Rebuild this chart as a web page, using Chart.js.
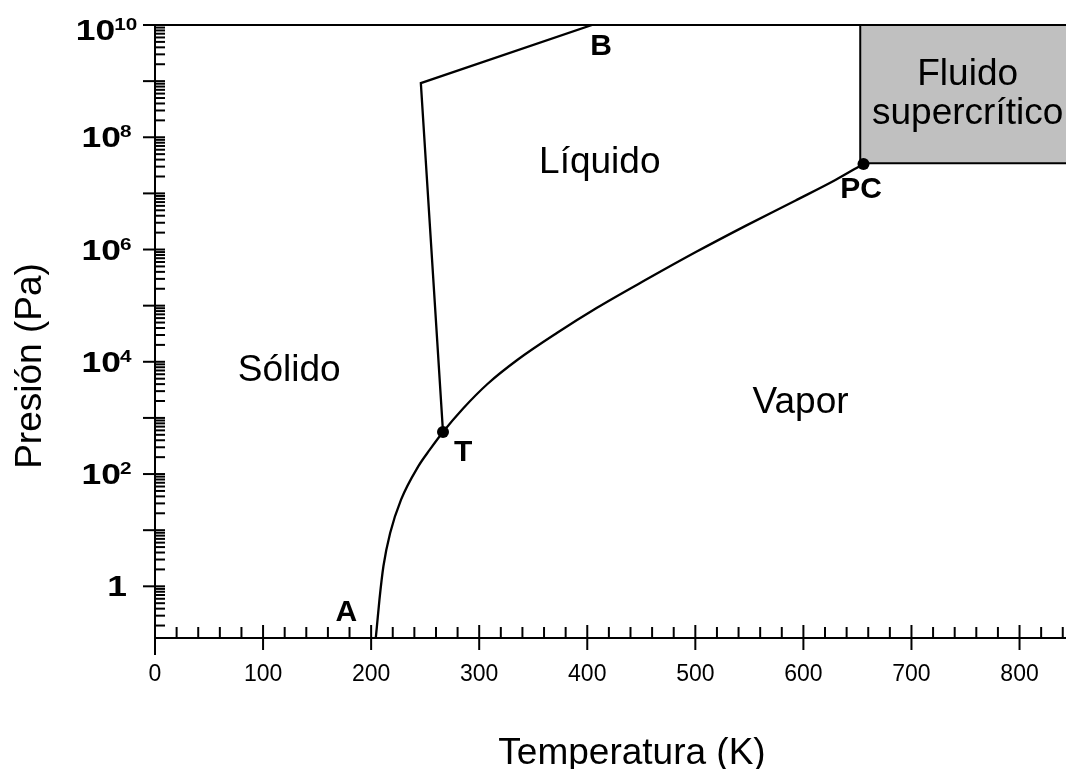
<!DOCTYPE html>
<html>
<head>
<meta charset="utf-8">
<script src="https://cdn.jsdelivr.net/npm/chart.js@4.4.0/dist/chart.umd.min.js"></script>
<style>
  html, body { margin: 0; padding: 0; background: #fff; }
  #wrap { width: 1072px; height: 769px; }
</style>
</head>
<body>
<div id="wrap"><canvas id="phaseChart"></canvas></div>
<script>
// Diagrama de fases del agua (presión en escala logarítmica)
const FONT = "'Liberation Sans', Arial, Helvetica, sans-serif";

// curva sólido-vapor + líquido-vapor: A -> T -> PC
const curveT = [204.3, 205.3, 207.7, 211.4, 217.6, 227.7, 243.6, 254.3, 266.5, 284.9, 307.9, 335.5, 372.2, 409.0, 455.0, 500.9, 546.9, 592.8, 629.6, 655.6];
const curveP = [0.12, 0.19, 0.58, 2.3, 8.9, 35, 137, 272, 561, 1459, 4064, 10870, 32890, 91620, 294400, 909800, 2.667e6, 7.48e6, 1.733e7, 3.35e7];

// curva de fusión: T -> quiebre -> B
const meltT = [266.5, 246.0, 404.4];
const meltP = [561, 9.2e8, 1e10];

// punto triple y punto crítico
const dotT = [266.5, 655.6];
const dotP = [561, 3.35e7];

// zona de fluido supercrítico (borde izquierdo e inferior)
const boxT = [652.6, 652.6, 843];
const boxP = [1e10, 3.45e7, 3.45e7];

// ejes
const xTicks = [0, 100, 200, 300, 400, 500, 600, 700, 800];
const yDecades = [0, 1, 2, 3, 4, 5, 6, 7, 8, 9, 10];
const yLabelExps = [0, 2, 4, 6, 8, 10];
const xTitle = 'Temperatura (K)';
const yTitle = 'Presión (Pa)';

// textos dentro del gráfico (T en K, log10 de P)
const regionTexts = [
    { text: 'Sólido', t: 76.6, logP: 3.65, align: 'left' },
    { text: 'Líquido', t: 355.4, logP: 7.36, align: 'left' },
    { text: 'Vapor', t: 553.0, logP: 3.09, align: 'left' },
    { text: 'Fluido', t: 752.0, logP: 8.93, align: 'center' },
    { text: 'supercrítico', t: 752.0, logP: 8.24, align: 'center' }
];
const pointTexts = [
    { text: 'A', t: 167.0, logP: -0.62 },
    { text: 'B', t: 402.8, logP: 9.47 },
    { text: 'T', t: 276.7, logP: 2.24 },
    { text: 'PC', t: 634.2, logP: 6.92 }
];

const toXY = (xs, ys) => xs.map((v, i) => ({ x: v, y: ys[i] }));

function drawWide(ctx, text, font, x, y, sx) {
    ctx.save();
    ctx.translate(x, y);
    ctx.scale(sx, 1);
    ctx.font = font;
    ctx.fillText(text, 0, 0);
    ctx.restore();
}

const textPlugin = {
    id: 'phaseTexts',
    afterDatasetsDraw(chart) {
        const { ctx, scales: { x, y } } = chart;
        ctx.save();
        ctx.fillStyle = '#000';
        ctx.textBaseline = 'alphabetic';
        ctx.font = `37px ${FONT}`;
        regionTexts.forEach(r => {
            ctx.textAlign = r.align;
            ctx.fillText(r.text, x.getPixelForValue(r.t), y.getPixelForValue(10 ** r.logP));
        });
        ctx.font = `bold 30px ${FONT}`;
        ctx.textAlign = 'left';
        pointTexts.forEach(p => {
            ctx.fillText(p.text, x.getPixelForValue(p.t), y.getPixelForValue(10 ** p.logP));
        });
        ctx.restore();
    }
};

const axesPlugin = {
    id: 'phaseAxes',
    afterDraw(chart) {
        const { ctx, chartArea: a, scales: { x, y } } = chart;
        const line = (x1, y1, x2, y2) => {
            ctx.beginPath();
            ctx.moveTo(x1, y1);
            ctx.lineTo(x2, y2);
            ctx.stroke();
        };
        ctx.save();
        ctx.strokeStyle = '#000';
        ctx.lineWidth = 2;

        // marco
        line(a.left, a.top, a.left, a.bottom + 17);
        line(a.left, a.bottom, a.right, a.bottom);
        line(a.left - 12, a.top, a.right, a.top);

        // marcas eje y (log)
        yDecades.forEach(d => {
            const py = y.getPixelForValue(10 ** d);
            if (py >= a.top - 1 && py <= a.bottom) line(a.left - 12, py, a.left + 10, py);
        });
        for (let d = -1; d < 10; d++) {
            for (let m = 2; m <= 9; m++) {
                const v = m * 10 ** d;
                if (v < y.min || v > y.max) continue;
                const py = y.getPixelForValue(v);
                line(a.left, py, a.left + 10, py);
            }
        }

        // marcas eje x
        for (let v = 20; v <= x.max; v += 20) {
            const px = x.getPixelForValue(v);
            if (v % 100 === 0) line(px, a.bottom - 13, px, a.bottom + 12);
            else line(px, a.bottom - 11, px, a.bottom);
        }

        // etiquetas eje y con exponente
        ctx.fillStyle = '#000';
        ctx.textAlign = 'left';
        ctx.textBaseline = 'alphabetic';
        const sx = 1.22;
        const mainFont = `bold 29px ${FONT}`;
        const supFont = `bold 17px ${FONT}`;
        yLabelExps.forEach(e => {
            const py = y.getPixelForValue(10 ** e);
            const base = Math.max(py + 10, 40);
            if (e === 0) {
                ctx.font = mainFont;
                const w = ctx.measureText('1').width * sx;
                drawWide(ctx, '1', mainFont, 117 - w / 2, base, sx);
                return;
            }
            ctx.font = mainFont;
            const wm = ctx.measureText('10').width * sx;
            ctx.font = supFont;
            const ws = ctx.measureText(String(e)).width * sx;
            const x0 = 107 - (wm + ws) / 2;
            drawWide(ctx, '10', mainFont, x0, base, sx);
            drawWide(ctx, String(e), supFont, x0 + wm - 1, base - 10, sx);
        });

        // títulos de los ejes
        ctx.font = `37px ${FONT}`;
        ctx.textAlign = 'center';
        ctx.fillText(xTitle, 632, 764);
        ctx.save();
        ctx.translate(41, 366);
        ctx.rotate(-Math.PI / 2);
        ctx.fillText(yTitle, 0, 0);
        ctx.restore();

        ctx.restore();
    }
};

new Chart(document.getElementById('phaseChart'), {
    type: 'line',
    data: {
        datasets: [
            {
                label: 'Fluido supercrítico',
                data: toXY(boxT, boxP),
                borderColor: '#000',
                borderWidth: 2,
                backgroundColor: '#c0c0c0',
                fill: { value: 1e10 },
                pointRadius: 0,
                tension: 0,
                order: 3
            },
            {
                label: 'Sublimación / vaporización',
                data: toXY(curveT, curveP),
                borderColor: '#000',
                borderWidth: 2.3,
                pointRadius: 0,
                cubicInterpolationMode: 'monotone',
                fill: false,
                order: 2
            },
            {
                label: 'Fusión',
                data: toXY(meltT, meltP),
                borderColor: '#000',
                borderWidth: 2.3,
                pointRadius: 0,
                tension: 0,
                fill: false,
                order: 2
            },
            {
                label: 'T, PC',
                data: toXY(dotT, dotP),
                showLine: false,
                pointRadius: 6,
                pointBackgroundColor: '#000',
                pointBorderColor: '#000',
                pointBorderWidth: 0,
                order: 1
            }
        ]
    },
    options: {
        responsive: true,
        maintainAspectRatio: false,
        devicePixelRatio: 1,
        animation: false,
        layout: { padding: { top: 25, right: 0, left: 0, bottom: 0 } },
        plugins: {
            legend: { display: false },
            tooltip: { enabled: false }
        },
        scales: {
            x: {
                type: 'linear',
                min: 0,
                max: 843,
                grid: { display: false, drawTicks: false },
                border: { display: false },
                afterBuildTicks: scale => { scale.ticks = xTicks.map(v => ({ value: v })); },
                afterFit: scale => { scale.height = 131; },
                ticks: {
                    color: '#000',
                    font: { family: FONT, size: 23 },
                    padding: 23,
                    maxRotation: 0,
                    autoSkip: false
                }
            },
            y: {
                type: 'logarithmic',
                min: 0.12,
                max: 1e10,
                grid: { display: false, drawTicks: false },
                border: { display: false },
                afterFit: scale => { scale.width = 155; },
                ticks: { display: false }
            }
        }
    },
    plugins: [textPlugin, axesPlugin]
});
</script>
</body>
</html>
